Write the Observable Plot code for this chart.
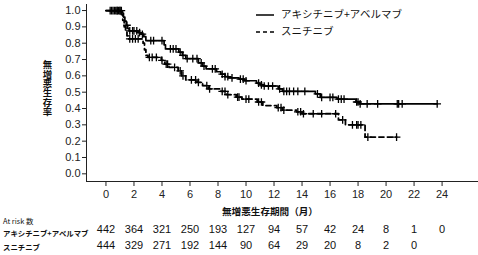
<!DOCTYPE html>
<html><head><meta charset="utf-8">
<script src="https://cdn.jsdelivr.net/npm/d3@7"></script>
<script src="https://cdn.jsdelivr.net/npm/@observablehq/plot@0.6"></script>
<style>
body{margin:0;background:#fff;}
#wrap{position:relative;width:478px;height:255px;overflow:hidden;color:#111;}
.jp{font-family:"Noto Sans CJK JP",sans-serif;position:absolute;white-space:nowrap;color:#111;}
#ylab{left:42px;top:60px;writing-mode:vertical-rl;text-orientation:upright;font-size:9.4px;font-weight:bold;letter-spacing:0px;line-height:1;}
#xlab{left:270px;top:207px;transform:translateX(-50%);font-size:9.6px;font-weight:bold;line-height:1;}
#legend{left:256px;top:6px;font-size:10.5px;line-height:1;}
#legend div{display:flex;align-items:center;height:17px;}
#legend svg{margin-right:7px;}
.rl{left:3px;font-size:7.4px;font-weight:bold;line-height:1;}
</style></head><body><div id="wrap"></div>
<script>
// ---- data ----
const seriesNames = ["アキシチニブ+アベルマブ", "スニチニブ"];
const months = [0,2,4,6,8,10,12,14,16,18,20,22,24];
const yTicks = [0,0.1,0.2,0.3,0.4,0.5,0.6,0.7,0.8,0.9,1.0];
const axiRisk = [442,364,321,250,193,127,94,57,42,24,8,1,0];
const suniRisk = [444,329,271,192,144,90,64,29,20,8,2,0];

// Kaplan–Meier steps (time in months, survival after step)
const axiTime = [0,1.15,1.25,1.35,1.45,1.55,1.65,2.3,2.5,2.7,2.85,4.15,4.25,5.2,5.45,5.7,6.6,6.9,7.15,7.9,8.2,8.5,8.75,9.5,9.9,10.75,11.0,11.25,12.3,12.6,14.95,15.3,16.5,17.85,18.1];
const axiSurv = [1.0,0.985,0.96,0.935,0.91,0.89,0.875,0.865,0.855,0.84,0.816,0.79,0.765,0.745,0.725,0.705,0.68,0.66,0.643,0.625,0.61,0.595,0.588,0.58,0.57,0.555,0.545,0.538,0.52,0.505,0.49,0.468,0.458,0.44,0.428];
const axiEnd = 23.65;
const axiCensor = [0.3,0.5,0.7,0.8,0.9,1.0,1.1,1.5,1.7,1.9,2.0,2.2,2.4,2.6,3.2,3.4,4.0,4.6,4.8,5.0,5.3,5.5,5.8,6.2,6.5,6.8,7.0,7.6,7.8,8.3,8.5,8.7,9.0,9.6,9.8,10.0,10.9,11.1,11.3,11.6,11.9,12.4,12.7,12.9,13.1,13.4,13.7,14.2,15.1,15.4,16.0,16.2,16.6,16.8,17.0,17.9,18.0,18.15,18.65,19.4,20.8,20.9,21.15,23.65];

const suniTime = [0,1.1,1.2,1.3,1.4,1.5,1.6,2.65,2.75,2.85,3.0,3.95,4.2,4.5,5.15,5.4,5.7,6.5,6.9,7.3,8.2,8.6,9.3,9.7,10.8,11.2,12.2,12.6,13.6,14.0,16.6,17.1,18.5];
const suniSurv = [1.0,0.975,0.94,0.9,0.87,0.845,0.826,0.8,0.76,0.725,0.713,0.695,0.672,0.652,0.63,0.6,0.575,0.56,0.54,0.52,0.505,0.485,0.47,0.458,0.44,0.418,0.405,0.39,0.38,0.368,0.33,0.30,0.225];
const suniEnd = 20.75;
const suniCensor = [0.4,0.6,0.8,1.0,1.7,1.9,2.1,2.3,3.1,3.3,3.6,4.0,4.3,4.4,4.9,5.3,5.5,6.1,6.4,6.6,7.2,7.4,8.3,8.5,8.7,9.4,9.5,10.0,10.2,10.9,11.1,12.3,12.5,12.7,13.7,13.9,14.1,14.8,15.4,16.4,16.9,17.6,17.9,18.0,18.2,18.7,20.75];

// ---- build ----
function steps(times, surv, end){
  const d = times.map((t,i)=>({t, s:surv[i]}));
  d.push({t:end, s:surv[surv.length-1]});
  return d;
}
function survAt(times, surv, t){
  let s = surv[0];
  for (let i=0;i<times.length;i++) if (times[i] <= t) s = surv[i];
  return s;
}
const axiLine = steps(axiTime, axiSurv, axiEnd);
const suniLine = steps(suniTime, suniSurv, suniEnd);
const axiCens = axiCensor.map(t=>({t, s:survAt(axiTime, axiSurv, t)}));
const suniCens = suniCensor.map(t=>({t, s:survAt(suniTime, suniSurv, t)}));
const axiRows = axiRisk.map((n,i)=>({t:months[i], n}));
const suniRows = suniRisk.map((n,i)=>({t:months[i], n}));

const chart = Plot.plot({
  width:478, height:255,
  marginLeft:86, marginRight:0, marginTop:4, marginBottom:74,
  style:{fontFamily:"'Liberation Sans', Arial, sans-serif", fontSize:"11px", color:"#222", background:"transparent", overflow:"visible"},
  x:{domain:[-1.39, 26.6], ticks:months, tickFormat:d=>String(d), tickSize:5, tickPadding:4, line:true, label:null},
  y:{domain:[-0.047, 1.037], ticks:yTicks, tickFormat:d=>d.toFixed(1), tickSize:4, tickPadding:2, line:true, label:null},
  marks:[
    Plot.line(axiLine, {x:"t", y:"s", curve:"step-after", stroke:"#000", strokeWidth:1.7}),
    Plot.line(suniLine, {x:"t", y:"s", curve:"step-after", stroke:"#000", strokeWidth:1.8, strokeDasharray:"5,3.5"}),
    Plot.dot(axiCens, {x:"t", y:"s", symbol:"plus", r:2.6, stroke:"#000", strokeWidth:1.3}),
    Plot.dot(suniCens, {x:"t", y:"s", symbol:"plus", r:2.6, stroke:"#000", strokeWidth:1.3}),
    Plot.text(axiRows, {x:"t", text:"n", frameAnchor:"bottom", dy:51, fontSize:11, fill:"#111"}),
    Plot.text(suniRows, {x:"t", text:"n", frameAnchor:"bottom", dy:67, fontSize:11, fill:"#111"})
  ]
});
const wrap = document.getElementById("wrap");
wrap.appendChild(chart);

function add(id, cls, html){
  const d = document.createElement("div");
  if (id) d.id = id;
  d.className = cls;
  d.innerHTML = html;
  wrap.appendChild(d);
  return d;
}
add("ylab","jp","無増悪生存率");
add("xlab","jp","無増悪生存期間（月）");
add("legend","jp",
  `<div><svg width="18" height="4"><line x1="0" y1="2" x2="18" y2="2" stroke="#000" stroke-width="1.5"/></svg>${seriesNames[0]}</div>`+
  `<div><svg width="18" height="4"><line x1="0" y1="2" x2="18" y2="2" stroke="#000" stroke-width="1.5" stroke-dasharray="4,3"/></svg>${seriesNames[1]}</div>`);
const r0 = add(null,"jp rl","At risk 数"); r0.style.top="217px"; r0.style.fontWeight="normal";
const r1 = add(null,"jp rl",seriesNames[0]); r1.style.top="228.5px";
const r2 = add(null,"jp rl",seriesNames[1]); r2.style.top="243px";
</script>
</body></html>
